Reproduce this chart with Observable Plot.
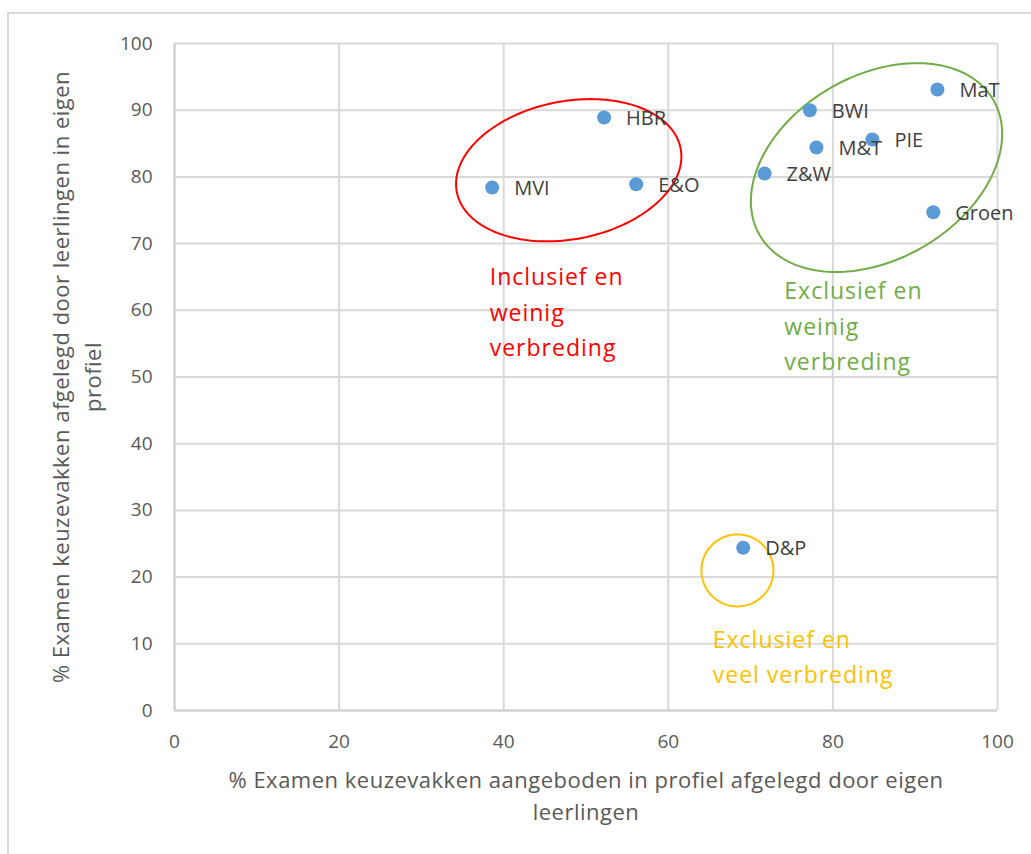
<!DOCTYPE html>
<html>
<head>
<meta charset="utf-8">
<script src="https://cdn.jsdelivr.net/npm/d3@7"></script>
<script src="https://cdn.jsdelivr.net/npm/@observablehq/plot@0.6"></script>
<style>
  html, body { margin: 0; padding: 0; background: #fff; }
  #wrap { position: relative; width: 1031px; height: 854px; overflow: hidden; }
  #border { position: absolute; left: 7px; top: 12px; width: 1100px; height: 900px;
            border-top: 2px solid #d9d9d9; border-left: 2px solid #d9d9d9; }
  #chart { position: absolute; left: 0; top: 0; }
  .title-text text { letter-spacing: 0.5px; }
  .note-text text { letter-spacing: 1px; }
</style>
</head>
<body>
<div id="wrap"><div id="border"></div><div id="chart"></div></div>
<script>
// Data
const profielen = ["MVI", "HBR", "E&O", "BWI", "M&T", "PIE", "MaT", "Z&W", "Groen", "D&P"];
const aangeboden = [38.6, 52.2, 56.1, 77.2, 78.0, 84.8, 92.7, 71.7, 92.2, 69.1];
const afgelegd   = [78.4, 88.9, 78.9, 90.0, 84.4, 85.6, 93.1, 80.5, 74.7, 24.4];
const xTicks = [0, 20, 40, 60, 80, 100];
const yTicks = [0, 10, 20, 30, 40, 50, 60, 70, 80, 90, 100];
const xTitle = "% Examen keuzevakken aangeboden in profiel afgelegd door eigen\nleerlingen";
const yTitle = "% Examen keuzevakken afgelegd door leerlingen in eigen\nprofiel";

// Annotation groups (centre in data units, semi-axes in px, rotation in degrees)
const groepNamen = ["Inclusief en\nweinig\nverbreding", "Exclusief en\nweinig\nverbreding", "Exclusief en\nveel verbreding"];
const groepKleuren = ["#ff0000", "#70ad47", "#ffc000"];
const groepTekstX = [38.3, 74.1, 65.4];
const groepTekstY = [67.6, 65.5, 13.2];
const ellipsCX = [47.9, 85.3, 68.4];
const ellipsCY = [81.0, 81.4, 21.0];
const ellipsA = [114, 135, 36];
const ellipsB = [69, 92, 36];
const ellipsRot = [11, 30, 0];

const points = profielen.map((p, i) => ({profiel: p, x: aangeboden[i], y: afgelegd[i]}));
const notes = groepNamen.map((t, i) => ({text: t, x: groepTekstX[i], y: groepTekstY[i], color: groepKleuren[i]}));

const width = 1031, height = 854;
const mL = 174, mR = 34, mT = 43, mB = 144;
const kx = (width - mL - mR) / 100, ky = (height - mT - mB) / 100;
const ellipses = [];
groepKleuren.forEach((c, g) => {
  const th = ellipsRot[g] * Math.PI / 180;
  for (let k = 0; k <= 180; k++) {
    const t = k / 180 * 2 * Math.PI;
    const px = ellipsA[g] * Math.cos(t) * Math.cos(th) - ellipsB[g] * Math.sin(t) * Math.sin(th);
    const py = ellipsA[g] * Math.cos(t) * Math.sin(th) + ellipsB[g] * Math.sin(t) * Math.cos(th);
    ellipses.push({g, color: c, x: ellipsCX[g] + px / kx, y: ellipsCY[g] + py / ky});
  }
});

const font = "'Open Sans', Lato, sans-serif";
const chart = Plot.plot({
  width, height,
  marginLeft: mL, marginRight: mR, marginTop: mT, marginBottom: mB,
  style: {fontFamily: font, fontSize: "18px", background: "transparent", overflow: "visible"},
  x: {domain: [0, 100], ticks: xTicks},
  y: {domain: [0, 100], ticks: yTicks},
  marks: [
    Plot.gridX(xTicks, {stroke: "#d9d9d9", strokeOpacity: 1, strokeWidth: 2}),
    Plot.gridY(yTicks, {stroke: "#d9d9d9", strokeOpacity: 1, strokeWidth: 2}),
    Plot.ruleX([0], {stroke: "#d0d0d0", strokeWidth: 2}),
    Plot.ruleY([0], {stroke: "#d0d0d0", strokeWidth: 2}),
    Plot.axisX(xTicks, {tickSize: 0, tickPadding: 24, fill: "#595959", fontSize: 19, label: null}),
    Plot.axisY(yTicks, {tickSize: 0, tickPadding: 22, fill: "#595959", fontSize: 19, label: null}),
    Plot.text([xTitle], {text: d => d, frameAnchor: "bottom", textAnchor: "middle", dy: 83, lineAnchor: "middle", lineHeight: 1.45, fill: "#595959", fontSize: 22, className: "title-text"}),
    Plot.text([yTitle], {text: d => d, frameAnchor: "left", textAnchor: "middle", dx: -100, rotate: -90, lineAnchor: "middle", lineHeight: 1.45, fill: "#595959", fontSize: 22, className: "title-text"}),
    Plot.line(ellipses, {x: "x", y: "y", z: "g", stroke: "color", strokeWidth: 2, curve: "linear"}),
    Plot.dot(points, {x: "x", y: "y", r: 7, fill: "#5b9bd5", stroke: "none"}),
    Plot.text(points, {x: "x", y: "y", text: "profiel", textAnchor: "start", dx: 22, dy: 1, fill: "#404040", fontSize: 20}),
    Plot.text(notes, {x: "x", y: "y", text: "text", fill: "color", textAnchor: "start", lineAnchor: "top", lineHeight: 1.55, fontSize: 23, className: "note-text"})
  ]
});
document.getElementById("chart").appendChild(chart);
</script>
</body>
</html>
